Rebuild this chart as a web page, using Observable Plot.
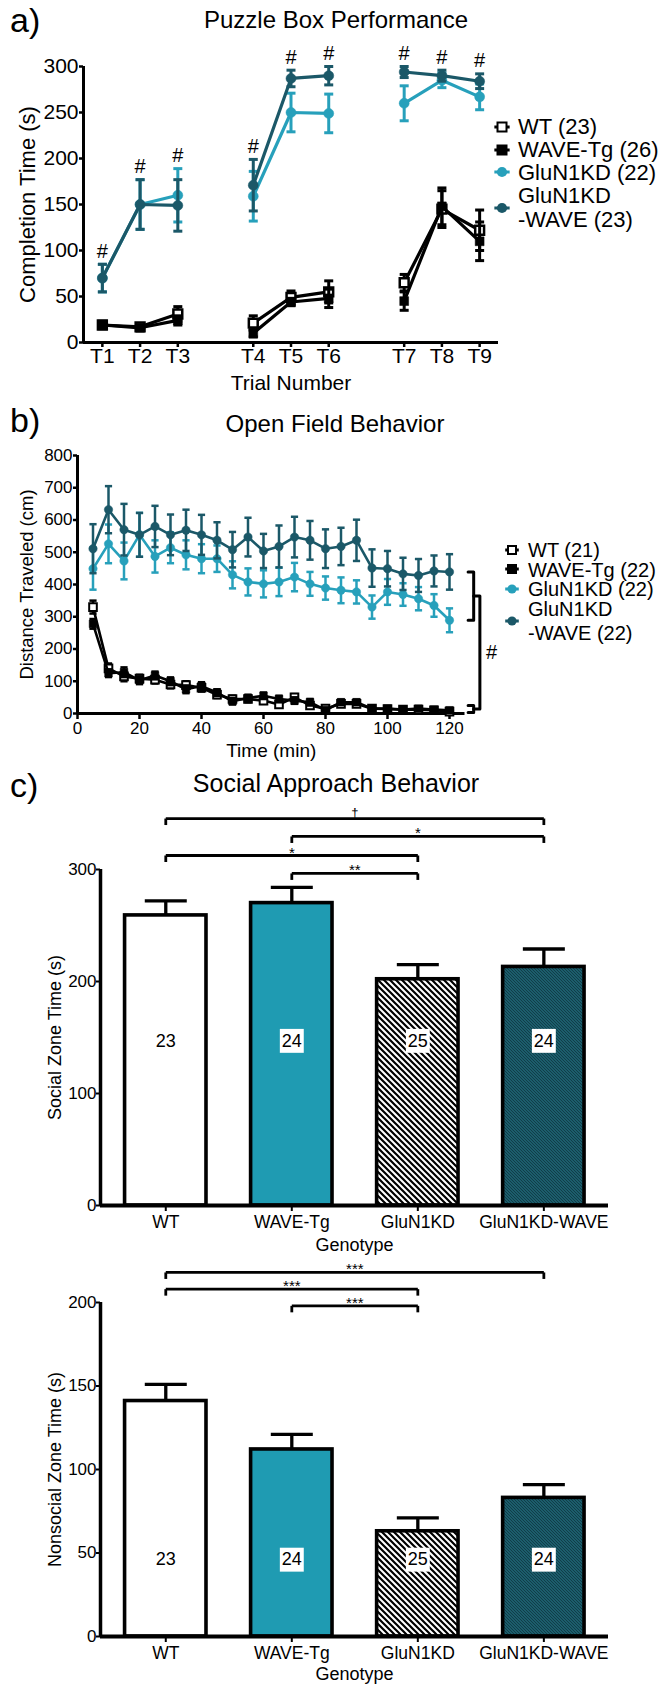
<!DOCTYPE html>
<html>
<head>
<meta charset="utf-8">
<script src="https://cdn.jsdelivr.net/npm/d3@7"></script>
<script src="https://cdn.jsdelivr.net/npm/@observablehq/plot@0.6"></script>
<style>
  body { margin: 0; background: #fff; }
  #page { position: relative; width: 666px; height: 1684px; overflow: hidden; background: #fff; }
  #page svg { position: absolute; left: 0; }
</style>
</head>
<body>
<div id="page"></div>
<script>
const FONT = '"Liberation Sans", Arial, Helvetica, sans-serif';

// ---------- shared ----------
const groups = ["WT", "WAVE-Tg", "GluN1KD", "GluN1KD-WAVE"];
const groupColors = ["black", "black", "#27a0bb", "#1b5868"];
const groupFills = ["white", "black", "#27a0bb", "#1b5868"];
const groupSymbols = ["square", "square", "circle", "circle"];

// ---------- a) Puzzle box ----------
const trials = ["T1", "T2", "T3", "T4", "T5", "T6", "T7", "T8", "T9"];
const trialPos = [1, 2, 3, 5, 6, 7, 9, 10, 11];
const puzzleYTicks = [0, 50, 100, 150, 200, 250, 300];
const puzzleWT = [19, 17, 31, 21, 49, 55, 65, 145, 122];
const puzzleWTsem = [4, 3, 8, 8, 7, 12, 9, 20, 22];
const puzzleWAVETg = [19, 16, 24, 10, 44, 48, 45, 148, 110];
const puzzleWAVETgsem = [3, 3, 5, 4, 4, 10, 10, 20, 21];
const puzzleGluN1KD = [70, 150, 160, 159, 250, 249, 260, 285, 267];
const puzzleGluN1KDsem = [15, 27, 29, 27, 21, 21, 19, 8, 14];
const puzzleGluN1KDWAVE = [70, 150, 149, 171, 287, 290, 294, 290, 284];
const puzzleGluN1KDWAVEsem = [15, 27, 28, 28, 9, 10, 6, 6, 8];
const puzzleN = [23, 26, 22, 23];
const puzzleHashTrials = ["T1", "T2", "T3", "T4", "T5", "T6", "T7", "T8", "T9"];

// ---------- b) Open field ----------
const ofTime = [5, 10, 15, 20, 25, 30, 35, 40, 45, 50, 55, 60, 65, 70, 75, 80, 85, 90, 95, 100, 105, 110, 115, 120];
const ofXTicks = [0, 20, 40, 60, 80, 100, 120];
const ofYTicks = [0, 100, 200, 300, 400, 500, 600, 700, 800];
const ofWT = [330, 140, 115, 108, 105, 90, 88, 80, 58, 45, 45, 40, 28, 50, 25, 15, 30, 30, 15, 14, 12, 12, 10, 6];
const ofWTsem = [20, 15, 15, 12, 12, 12, 12, 12, 10, 10, 10, 10, 10, 10, 10, 9, 8, 8, 6, 6, 6, 6, 5, 5];
const ofWAVETg = [278, 125, 128, 103, 118, 100, 75, 85, 65, 38, 48, 55, 45, 40, 35, 10, 35, 35, 15, 15, 12, 15, 12, 10];
const ofWAVETgsem = [15, 12, 15, 12, 12, 12, 12, 12, 10, 10, 10, 10, 10, 10, 10, 8, 8, 8, 6, 6, 6, 6, 5, 5];
const ofGluN1KD = [449, 526, 473, 554, 487, 514, 492, 480, 480, 430, 408, 402, 408, 423, 402, 389, 382, 377, 330, 377, 369, 356, 335, 289];
const ofGluN1KDsem = [65, 60, 57, 68, 50, 48, 45, 45, 41, 42, 42, 42, 44, 44, 37, 36, 40, 36, 36, 40, 35, 36, 35, 37];
const ofGluN1KDWAVE = [511, 632, 570, 554, 580, 554, 568, 554, 537, 508, 547, 504, 518, 547, 537, 511, 518, 537, 451, 449, 433, 428, 442, 439];
const ofGluN1KDWAVEsem = [76, 73, 80, 68, 64, 63, 64, 62, 56, 55, 60, 53, 65, 63, 60, 60, 58, 64, 58, 55, 50, 51, 48, 55];
const ofN = [21, 22, 22, 22];
const ofBracketX = [126, 127.8, 129.8, 131.8];   // minutes, right of last sample
const ofLowBracket = [25, 3];

// ---------- c) Social approach ----------
const socialMean = [259, 270, 202, 213];
const socialSem = [13, 14, 13, 16];
const nonsocialMean = [141, 112, 63, 83];
const nonsocialSem = [10, 9, 8, 8];
const barCounts = [23, 24, 25, 24];
const barCountBoxed = [false, true, true, true];
const socialYTicks = [0, 100, 200, 300];
const nonsocialYTicks = [0, 50, 100, 150, 200];
const socialComps = [
  {a: "WT", b: "GluN1KD-WAVE", label: "†", level: 345.5},
  {a: "WAVE-Tg", b: "GluN1KD-WAVE", label: "*", level: 329.5},
  {a: "WT", b: "GluN1KD", label: "*", level: 312.5},
  {a: "WAVE-Tg", b: "GluN1KD", label: "**", level: 296.5}
];
const nonsocialComps = [
  {a: "WT", b: "GluN1KD-WAVE", label: "***", level: 218},
  {a: "WT", b: "GluN1KD", label: "***", level: 208},
  {a: "WAVE-Tg", b: "GluN1KD", label: "***", level: 198}
];

// ---------- helpers ----------
const capSym = {draw(ctx, size) { const r = Math.sqrt(size / Math.PI); ctx.moveTo(-r, 0); ctx.lineTo(r, 0); }};
const dropSym = {draw(ctx, size) { const r = Math.sqrt(size / Math.PI); ctx.moveTo(0, 0); ctx.lineTo(0, r); }};

function seriesMarks(rows, o) {
  return groups.flatMap((g, gi) => {
    const d = rows.filter(r => r.group === g);
    const c = groupColors[gi];
    const sq = groupSymbols[gi] === "square";
    return [
      Plot.line(d, {x: "x", y: "mean", z: "block", stroke: c, strokeWidth: o.lw}),
      Plot.ruleX(d, {x: "x", y1: r => r.mean - r.sem, y2: r => r.mean + r.sem, stroke: c, strokeWidth: o.ew}),
      Plot.dot(d, {x: "x", y: r => r.mean + r.sem, symbol: capSym, r: o.cap, fill: "none", stroke: c, strokeWidth: o.ew}),
      Plot.dot(d, {x: "x", y: r => r.mean - r.sem, symbol: capSym, r: o.cap, fill: "none", stroke: c, strokeWidth: o.ew}),
      Plot.dot(d, {x: "x", y: "mean", symbol: groupSymbols[gi], r: sq ? o.rs : o.r,
        fill: groupFills[gi], stroke: c, strokeWidth: groupFills[gi] === "white" ? o.ow : 0.5})
    ];
  });
}

function buildRows(xs, means, sems, blockOf) {
  const rows = [];
  groups.forEach((g, gi) => xs.forEach((x, i) => rows.push({group: g, x, block: blockOf(i), mean: means[gi][i], sem: sems[gi][i]})));
  return rows;
}

function yTitle(label, dx, size) {
  return Plot.text([label], {frameAnchor: "left", dx, rotate: -90, textAnchor: "middle", lineAnchor: "middle", fontSize: size});
}
function xTitle(label, dy, size) {
  return Plot.text([label], {frameAnchor: "bottom", dy, textAnchor: "middle", lineAnchor: "middle", fontSize: size});
}

const page = document.getElementById("page");
function place(svg, top) { svg.style.top = top + "px"; svg.style.position = "absolute"; page.appendChild(svg); }

// ---------- Panel a ----------
const puzzleRows = buildRows(trialPos,
  [puzzleWT, puzzleWAVETg, puzzleGluN1KD, puzzleGluN1KDWAVE],
  [puzzleWTsem, puzzleWAVETgsem, puzzleGluN1KDsem, puzzleGluN1KDWAVEsem],
  i => Math.floor(i / 3));
const hashRows = puzzleHashTrials.map(t => {
  const i = trials.indexOf(t);
  return {x: trialPos[i], top: Math.max(puzzleGluN1KD[i] + puzzleGluN1KDsem[i], puzzleGluN1KDWAVE[i] + puzzleGluN1KDWAVEsem[i])};
});

const chartA = Plot.plot({
  width: 666, height: 400,
  marginTop: 66, marginBottom: 58, marginLeft: 83, marginRight: 168,
  x: {domain: [0.5, 11.5]},
  y: {domain: [0, 300]},
  style: {fontFamily: FONT, fontSize: "21px", color: "black", background: "white"},
  marks: [
    Plot.axisY({ticks: puzzleYTicks, tickSize: 4, tickPadding: 1, strokeWidth: 2.5, fontSize: 21, label: null}),
    Plot.axisX({ticks: trialPos, tickFormat: v => trials[trialPos.indexOf(v)], tickSize: 5, tickPadding: 1, strokeWidth: 2.5, fontSize: 21, label: null}),
    Plot.ruleX([0.5], {y1: 0, y2: 300, strokeWidth: 3}),
    Plot.ruleY([0], {x1: 0.5, x2: 11.5, strokeWidth: 3}),
    ...seriesMarks(puzzleRows, {lw: 3.2, ew: 3, cap: 4.5, r: 5, rs: 5, ow: 2.5}),
    Plot.text(hashRows, {x: "x", y: "top", text: () => "#", fontSize: 20, dy: -13}),
    yTitle("Completion Time (s)", -56, 22),
    xTitle("Trial Number", 41, 21)
  ]
});
place(chartA, 0);

// ---------- Panel b ----------
const ofRows = buildRows(ofTime,
  [ofWT, ofWAVETg, ofGluN1KD, ofGluN1KDWAVE],
  [ofWTsem, ofWAVETgsem, ofGluN1KDsem, ofGluN1KDWAVEsem],
  () => 0);
const last = ofTime.length - 1;
const upTop = ofGluN1KDWAVE[last], upBot = ofGluN1KD[last];
const upMid = (upTop + upBot) / 2, lowMid = (ofLowBracket[0] + ofLowBracket[1]) / 2;
const [bx0, bx1, bx2, bx3] = ofBracketX;
const bracketInner = [[bx0, upTop], [bx1, upTop], [bx1, upBot], [bx0, upBot]];
const bracketLow = [[bx0, ofLowBracket[0]], [bx1, ofLowBracket[0]], [bx1, ofLowBracket[1]], [bx0, ofLowBracket[1]]];
const bracketOuter = [[bx1, upMid], [bx2, upMid], [bx2, lowMid], [bx1, lowMid]];

const chartB = Plot.plot({
  width: 666, height: 370,
  marginTop: 55, marginBottom: 57, marginLeft: 77, marginRight: 201.5,
  x: {domain: [0, 125]},
  y: {domain: [0, 800]},
  style: {fontFamily: FONT, fontSize: "17px", color: "black", background: "white"},
  marks: [
    Plot.axisY({ticks: ofYTicks, tickSize: 4, tickPadding: 1, strokeWidth: 2.5, fontSize: 17, label: null}),
    Plot.axisX({ticks: ofXTicks, tickSize: 6, tickPadding: 2, strokeWidth: 2.5, fontSize: 17, label: null}),
    Plot.ruleX([0], {y1: 0, y2: 800, strokeWidth: 3}),
    Plot.ruleY([0], {x1: 0, x2: 125, strokeWidth: 3}),
    ...seriesMarks(ofRows, {lw: 2.6, ew: 2.5, cap: 3.6, r: 4.2, rs: 4.3, ow: 2}),
    Plot.line(bracketInner, {x: d => d[0], y: d => d[1], strokeWidth: 3}),
    Plot.line(bracketLow, {x: d => d[0], y: d => d[1], strokeWidth: 3}),
    Plot.line(bracketOuter, {x: d => d[0], y: d => d[1], strokeWidth: 3}),
    Plot.text(["#"], {x: bx3, y: (upMid + lowMid) / 2, textAnchor: "start", fontSize: 20}),
    yTitle("Distance Traveled (cm)", -50, 18.5),
    xTitle("Time (min)", 37, 19)
  ]
});
place(chartB, 400);

// ---------- Panel c ----------
const barHalf = 0.323;
const barXDomain = [-0.518, 3.513];
function barChart({means, sems, comps, ymax, yticks, countY, ylabel, height, marginTop, marginBottom, suffix, genoDy}) {
  const rows = groups.map((g, i) => ({g, i, mean: means[i], sem: sems[i], n: barCounts[i], boxed: barCountBoxed[i]}));
  const idA = "hatchA" + suffix, idB = "hatchB" + suffix;
  const defs = () => {
    const d = d3.create("svg:defs");
    const pa = d.append("pattern").attr("id", idA).attr("patternUnits", "userSpaceOnUse").attr("width", 6).attr("height", 6);
    pa.append("rect").attr("width", 6).attr("height", 6).attr("fill", "white");
    pa.append("path").attr("d", "M-1,-1L7,7M-1,5L1,7M5,-1L7,1").attr("stroke", "black").attr("stroke-width", 2.2);
    const pb = d.append("pattern").attr("id", idB).attr("patternUnits", "userSpaceOnUse").attr("width", 3).attr("height", 3);
    pb.append("rect").attr("width", 3).attr("height", 3).attr("fill", "#216b7b");
    pb.append("path").attr("d", "M-1,-1L4,4M-1,2L1,4M2,-1L4,1").attr("stroke", "#0f3b46").attr("stroke-width", 1.1);
    return d.node();
  };
  const idx = g => groups.indexOf(g);
  const dagger = comps.filter(d => d.label === "†");
  const stars = comps.filter(d => d.label !== "†");
  return Plot.plot({
    width: 666, height, marginTop, marginBottom, marginLeft: 100, marginRight: 58,
    x: {domain: barXDomain},
    y: {domain: [0, ymax]},
    color: {type: "ordinal", domain: groups, range: ["white", "#1f9bb2", `url(#${idA})`, `url(#${idB})`]},
    style: {fontFamily: FONT, fontSize: "17px", color: "black", background: "white"},
    marks: [
      defs,
      Plot.rectY(rows, {x1: d => d.i - barHalf, x2: d => d.i + barHalf, y1: 0, y2: "mean", fill: "g", stroke: "black", strokeWidth: 3.6}),
      Plot.ruleX(rows, {x: "i", y1: "mean", y2: d => d.mean + d.sem, strokeWidth: 3.3}),
      Plot.dot(rows, {x: "i", y: d => d.mean + d.sem, symbol: capSym, r: 21, fill: "none", stroke: "black", strokeWidth: 3.3}),
      Plot.dot(rows.filter(d => d.boxed), {x: "i", y: () => countY, symbol: "square", r: 13.5, fill: "white", stroke: "none"}),
      Plot.text(rows, {x: "i", y: () => countY, text: "n", fontSize: 18}),
      Plot.ruleX([barXDomain[0]], {y1: 0, y2: ymax, strokeWidth: 3.5}),
      Plot.ruleY([0], {strokeWidth: 4}),
      Plot.axisY({ticks: yticks, tickSize: 4, tickPadding: 0, strokeWidth: 2, fontSize: 17, label: null}),
      Plot.axisX({ticks: [0, 1, 2, 3], tickFormat: i => groups[i], tickSize: 6, tickPadding: 4, strokeWidth: 2, fontSize: 17.5, label: null}),
      Plot.link(comps, {x1: d => idx(d.a), x2: d => idx(d.b), y1: "level", y2: "level", strokeWidth: 2.8}),
      Plot.dot(comps, {x: d => idx(d.a), y: "level", symbol: dropSym, r: 6.5, fill: "none", stroke: "black", strokeWidth: 2.8}),
      Plot.dot(comps, {x: d => idx(d.b), y: "level", symbol: dropSym, r: 6.5, fill: "none", stroke: "black", strokeWidth: 2.8}),
      Plot.text(stars, {x: d => (idx(d.a) + idx(d.b)) / 2, y: "level", text: "label", fontSize: 15, lineAnchor: "bottom", dy: 2}),
      Plot.text(dagger, {x: d => (idx(d.a) + idx(d.b)) / 2, y: "level", text: "label", fontSize: 13, lineAnchor: "bottom", dy: -2}),
      yTitle(ylabel, -45, 18),
      xTitle("Genotype", genoDy, 18)
    ]
  });
}

const chartC1 = barChart({means: socialMean, sems: socialSem, comps: socialComps, ymax: 300, yticks: socialYTicks,
  countY: 147, ylabel: "Social Zone Time (s)", height: 488, marginTop: 99, marginBottom: 53, suffix: "1", genoDy: 40});
place(chartC1, 770);
const chartC2 = barChart({means: nonsocialMean, sems: nonsocialSem, comps: nonsocialComps, ymax: 200, yticks: nonsocialYTicks,
  countY: 46, ylabel: "Nonsocial Zone Time (s)", height: 426, marginTop: 44, marginBottom: 48, suffix: "2", genoDy: 38});
place(chartC2, 1258);

// ---------- overlay: panel letters, titles, legends ----------
const ov = d3.select(page).append("svg")
  .attr("width", 666).attr("height", 1684)
  .style("position", "absolute").style("top", "0px").style("left", "0px")
  .style("pointer-events", "none")
  .attr("font-family", FONT);

function txt(x, y, s, size, anchor = "start") {
  ov.append("text").attr("x", x).attr("y", y).attr("font-size", size).attr("text-anchor", anchor).attr("fill", "black").text(s);
}
txt(10, 32, "a)", 34);
txt(336, 28, "Puzzle Box Performance", 24, "middle");
txt(10, 432, "b)", 34);
txt(335, 432, "Open Field Behavior", 24, "middle");
txt(10, 797, "c)", 34);
txt(336, 792, "Social Approach Behavior", 25, "middle");

function marker(x, y, gi, s, lw) {
  ov.append("line").attr("x1", x - s * 1.7).attr("x2", x + s * 1.7).attr("y1", y).attr("y2", y)
    .attr("stroke", groupColors[gi]).attr("stroke-width", lw);
  if (groupSymbols[gi] === "square") {
    ov.append("rect").attr("x", x - s).attr("y", y - s).attr("width", 2 * s).attr("height", 2 * s)
      .attr("fill", groupFills[gi]).attr("stroke", groupColors[gi]).attr("stroke-width", 2);
  } else {
    ov.append("circle").attr("cx", x).attr("cy", y).attr("r", s + 0.6).attr("fill", groupFills[gi]);
  }
}
function legend(mx, tx, baselines, markerYs, ns, size, ms) {
  const names = groups.map((g, i) => i === 3 ? ["GluN1KD", `-WAVE (${ns[i]})`] : [`${g} (${ns[i]})`]);
  let k = 0;
  names.forEach((lines, gi) => {
    marker(mx, markerYs[gi], gi, ms, 3);
    lines.forEach(l => { txt(tx, baselines[k], l, size); k++; });
  });
}
legend(502, 518, [134, 157, 180, 203, 227], [127, 150, 172, 208], puzzleN, 22, 4.5);
legend(512, 528, [557, 577, 596, 616, 640], [550, 569, 589, 621], ofN, 20, 4);
</script>
</body>
</html>
